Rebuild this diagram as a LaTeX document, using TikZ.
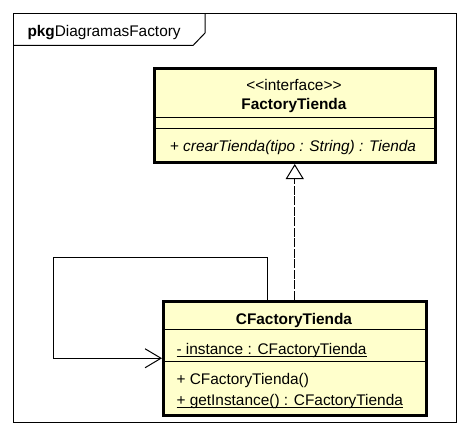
\documentclass[tikz,border=0pt]{standalone}
\usepackage{fontspec}
\setmainfont{Liberation Sans}
\usetikzlibrary{arrows.meta}
\definecolor{classfill}{RGB}{255,255,204}
\newcommand\stline[1]{\setbox0\hbox{#1}\rlap{\rule[-2.5pt]{\wd0}{1pt}}\box0}

\begin{document}
\begin{tikzpicture}[
        x=1pt, y=-1pt,
        line width=1pt,
        font=\fontsize{15.4}{18}\selectfont,
        class/.style={
            rectangle,
            draw,
            line width=3pt,
            fill=classfill,
            inner sep=0pt,
        },
        txt/.style={
            inner sep=0pt,
            anchor=base,
        },
        realize/.style={
            dash pattern=on 9pt off 1.5pt,
            -{Triangle[open, length=15pt, width=18pt, fill=white]},
        },
        assoc/.style={
            -{Straight Barb[length=16pt, width=19pt]},
        },
    ]

    \useasboundingbox (0,0) rectangle (469,436);

    % package frame
    \draw (13.5,13.5) rectangle (456.5,422.5);
    \draw (13.5,45.5) -- (193,45.5) -- (205,33) -- (205,13.5);
    \node (pkg) at (27,37) [txt, anchor=base west] {\textbf{pkg}DiagramasFactory};

    % interface
    \node (FT) at (294.75,115.5) [class, minimum width=280.5, minimum height=94] {};
    \node (FTst) at (294,91) [txt] {{<}{<}interface{>}{>}};
    \node (FTname) at (294,110) [txt] {\textbf{FactoryTienda}};
    \draw (FT.west |- 0,117.5) -- (FT.east |- 0,117.5);
    \draw (FT.west |- 0,128) -- (FT.east |- 0,128);
    \node (FTop) at (293,151) [txt] {\textit{+ crearTienda(tipo : String) : Tienda}};

    % class
    \node (CFT) at (294.75,358.25) [class, minimum width=262.5, minimum height=114.5] {};
    \node (CFTname) at (294,324) [txt] {\textbf{CFactoryTienda}};
    \draw (CFT.west |- 0,329.5) -- (CFT.east |- 0,329.5);
    \node (CFTat) at (176,354) [txt, anchor=base west] {\stline{- instance : CFactoryTienda}};
    \draw (CFT.west |- 0,361) -- (CFT.east |- 0,361);
    \node (CFTop1) at (176,384) [txt, anchor=base west] {+ CFactoryTienda()};
    \node (CFTop2) at (176,405) [txt, anchor=base west] {\stline{+ getInstance() : CFactoryTienda}};

    \coordinate (loop) at (53.5,257.5);

    \draw [realize] (CFT) -- (FT);
    \draw [assoc] ([xshift=-27pt]CFT.north) |- (loop) |- (CFT.west);

\end{tikzpicture}
\end{document}
